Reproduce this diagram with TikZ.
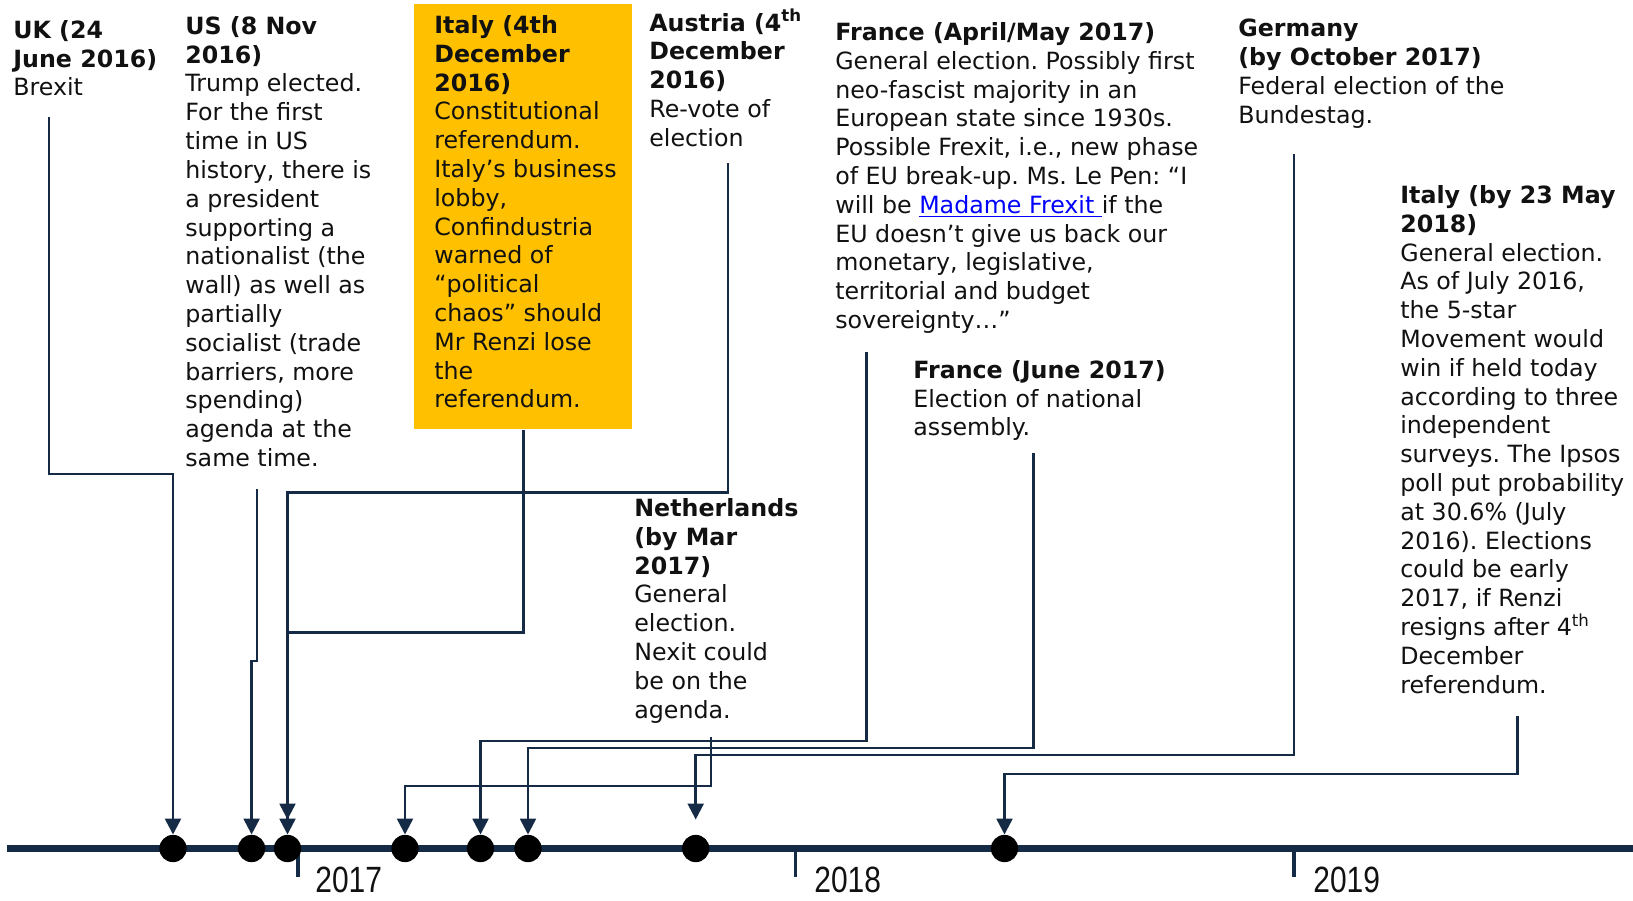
\documentclass[tikz,border=0pt]{standalone}
\usepackage{fontspec}
\usepackage{xcolor}
\usepackage{tikz}
\usetikzlibrary{arrows.meta,calc}
\newfontfamily\handfont{DejaVu Sans}
\newfontfamily\yearfam[FakeStretch=0.82]{Liberation Sans}
\definecolor{ink}     {HTML}{111111}
\definecolor{navy}    {HTML}{152A45}
\definecolor{gold}    {HTML}{FFC000}
\definecolor{linkblue}{HTML}{0000FF}
\newcommand\notefont{\handfont\frenchspacing\fontsize{13.5pt}{16.4pt}\selectfont}
\newcommand\yearfont{\yearfam\fontsize{20.8pt}{24pt}\selectfont}
\newcommand\hd[1]{\textbf{#1}}
\newcommand\lnk[1]{\textcolor{linkblue}{\underline{#1}}}
\tikzset{
  note/.style    = {anchor=north west, inner sep=0pt, align=left,
                    font=\notefont, text=ink},
  hibox/.style   = {anchor=north west, fill=gold, inner sep=0pt,
                    minimum width=4.36cm, minimum height=8.5cm},
  link/.style    = {-{Triangle[length=9pt,width=9pt]}, draw=navy, line width=1.4pt},
  event/.style   = {circle, fill=black, minimum size=0.546cm, inner sep=0pt},
  axisline/.style= {draw=navy, line width=4.1pt},
  tickline/.style= {draw=navy, line width=2pt},
  yearlbl/.style = {anchor=north west, inner sep=0pt, font=\yearfont, text=ink},
}

\begin{document}
\begin{tikzpicture}[x=0.02cm,y=-0.02cm]
  \useasboundingbox (0,0) rectangle (1633,900);

  \node[hibox] (itbox) at (414,4) {};

  \node[note] (uk)  at (13,20)   {\hd{UK (24}\\\hd{June 2016)}\\Brexit};
  \node[note] (us)  at (185,16)  {\hd{US (8 Nov}\\\hd{2016)}\\Trump elected.\\For the first\\time in US\\history, there is\\a president\\supporting a\\nationalist (the\\wall) as well as\\partially\\socialist (trade\\barriers, more\\spending)\\agenda at the\\same time.};
  \node[note] (it)  at (434,15)  {\hd{Italy (4th}\\\hd{December}\\\hd{2016)}\\Constitutional\\referendum.\\Italy’s business\\lobby,\\Confindustria\\warned of\\“political\\chaos” should\\Mr Renzi lose\\the\\referendum.};
  \node[note] (at)  at (649,9)   {\hd{Austria (4\textsuperscript{th}}\\\hd{December}\\\hd{2016)}\\Re-vote of\\election};
  \node[note] (fr)  at (835,22)  {\hd{France (April/May 2017)}\\General election. Possibly first\\neo-fascist majority in an\\European state since 1930s.\\Possible Frexit, i.e., new phase\\of EU break-up. Ms. Le Pen: “I\\will be \lnk{Madame Frexit }if the\\EU doesn’t give us back our\\monetary, legislative,\\territorial and budget\\sovereignty…”};
  \node[note] (fj)  at (913,360) {\hd{France (June 2017)}\\Election of national\\assembly.};
  \node[note] (de)  at (1238,19) {\hd{Germany}\\\hd{(by October 2017)}\\Federal election of the\\Bundestag.};
  \node[note] (it2) at (1400,185){\hd{Italy (by 23 May}\\\hd{2018)}\\General election.\\As of July 2016,\\the 5-star\\Movement would\\win if held today\\according to three\\independent\\surveys. The Ipsos\\poll put probability\\at 30.6\% (July\\2016). Elections\\could be early\\2017, if Renzi\\resigns after 4\textsuperscript{th}\\December\\referendum.};
  \node[note] (nl)  at (634,498) {\hd{Netherlands}\\\hd{(by Mar}\\\hd{2017)}\\General\\election.\\Nexit could\\be on the\\agenda.};

  \draw[axisline] (7,848.5) -- (1633,848.5);
  \draw[tickline] (298,851) -- (298,877);
  \draw[tickline] (795.5,851) -- (795.5,877);
  \draw[tickline] (1294,851) -- (1294,877);
  \node[yearlbl] (y17) at (315,867)  {2017};
  \node[yearlbl] (y18) at (814,867)  {2018};
  \node[yearlbl] (y19) at (1313,867) {2019};

  \node[event] (d1) at (173,848.5)   {};
  \node[event] (d2) at (251.6,848.5) {};
  \node[event] (d3) at (287.5,848.5) {};
  \node[event] (d4) at (405,848.5)   {};
  \node[event] (d5) at (480.5,848.5) {};
  \node[event] (d6) at (528,848.5)   {};
  \node[event] (d7) at (695.7,848.5) {};
  \node[event] (d8) at (1004.5,848.5){};

  \coordinate (ukS)  at (49,117);
  \coordinate (usS)  at (257,489);
  \coordinate (atS)  at (728,163);
  \coordinate (nlS)  at (711,737);
  \coordinate (frS)  at (866.5,352);
  \coordinate (fjS)  at (1033.5,453);
  \coordinate (deS)  at (1294,154);
  \coordinate (it2S) at (1517.5,716);

  \draw[link] (ukS) -- ++(0,357) -| (d1.north);
  \draw[link] (usS) -- ++(0,172) -| (d2.north);
  \draw[link] (itbox.south) -- ++(0,203) -| (d3.north);
  \draw[link, shorten >=0.3cm] (atS) -- ++(0,329.5) -| (d3.north);
  \draw[link] (nlS) -- ++(0,49) -| (d4.north);
  \draw[link] (frS) -- ++(0,389) -| (d5.north);
  \draw[link] (fjS) -- ++(0,295) -| (d6.north);
  \draw[link, shorten >=0.3cm] (deS) -- ++(0,601) -| (d7.north);
  \draw[link] (it2S) -- ++(0,58) -| (d8.north);
\end{tikzpicture}
\end{document}
